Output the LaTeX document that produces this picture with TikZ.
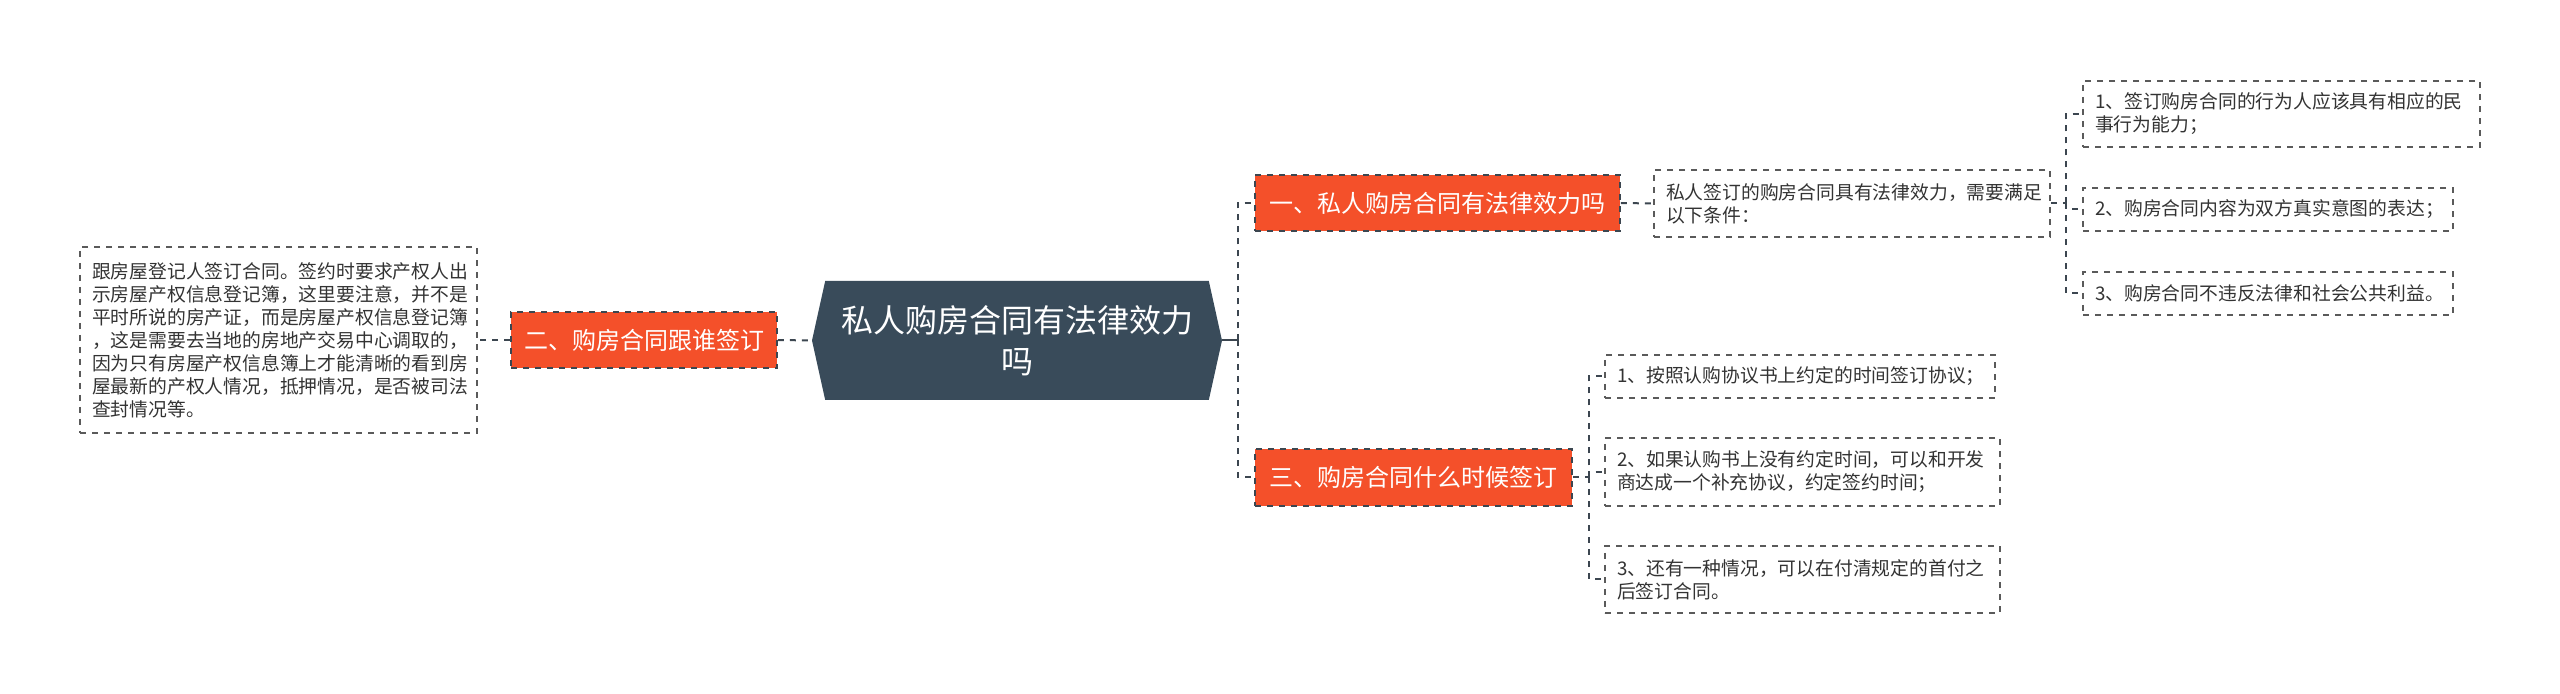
\documentclass[tikz,border=0pt]{standalone}
\usepackage{fontspec}
\newfontfamily\cjk{Noto Sans CJK SC}
\usetikzlibrary{shapes.symbols}

\definecolor{rootfill}{HTML}{394B5A}
\definecolor{topicfill}{HTML}{F4502A}
\definecolor{linegray}{HTML}{3C4650}
\definecolor{boxgray}{HTML}{5A5A5A}
\definecolor{textgray}{HTML}{333333}

\tikzset{
	rootnode/.style={signal, signal to=east and west, signal pointer angle=155, fill=rootfill, text=white, align=center,
		minimum width=205pt, minimum height=59.5pt, inner sep=2pt, font=\cjk\fontsize{16pt}{20.5pt}\selectfont},
	topic/.style={fill=topicfill, draw=linegray, dashed, line width=0.8pt, text=white, inner sep=0pt,
		font=\cjk\fontsize{12pt}{14pt}\selectfont},
	leaf/.style={draw=boxgray, dashed, line width=0.75pt, text=textgray, align=left, inner xsep=6pt, inner ysep=0pt,
		font=\cjk\fontsize{9.4pt}{11.5pt}\selectfont},
	link/.style={draw=linegray, line width=1pt, dashed},
}

\begin{document}
\begin{tikzpicture}[x=0.5pt, y=-0.5pt, dash pattern=on 4pt off 2.5pt]
				\useasboundingbox (0,0) rectangle (2560,694);
				\node[rootnode] (root) at (1017,340.5) {私人购房合同有法律效力\\吗};
				% left side
				\node[topic, minimum width=133pt, minimum height=28pt] (q2) at (644,340) {二、购房合同跟谁签订};
				\node[leaf, text width=186.5pt, minimum height=93pt] (sign) at (278.5,340) {跟房屋登记人签订合同。签约时要求产权人出\\示房屋产权信息登记簿，这里要注意，并不是\\平时所说的房产证，而是房屋产权信息登记簿\\，这是需要去当地的房地产交易中心调取的，\\因为只有房屋产权信息簿上才能清晰的看到房\\屋最新的产权人情况，抵押情况，是否被司法\\查封情况等。};
				% right side
				\node[topic, minimum width=182.5pt, minimum height=28pt] (q1) at (1437.5,203) {一、私人购房合同有法律效力吗};
				\node[topic, minimum width=158.5pt, minimum height=28.5pt] (q3) at (1413.5,477.5) {三、购房合同什么时候签订};
				\node[leaf, text width=186pt, minimum height=33.5pt] (cond) at (1852,203.5) {私人签订的购房合同具有法律效力，需要满足\\以下条件：};
				\node[leaf, text width=186.5pt, minimum height=33pt] (c1) at (2281.5,114) {1、签订购房合同的行为人应该具有相应的民\\事行为能力；};
				\node[leaf, text width=173pt, minimum height=21.5pt] (c2) at (2268,209.5) {2、购房合同内容为双方真实意图的表达；};
				\node[leaf, text width=173pt, minimum height=21.5pt] (c3) at (2268,293.5) {3、购房合同不违反法律和社会公共利益。};
				\node[leaf, text width=183pt, minimum height=21.5pt] (t1) at (1800,376.5) {1、按照认购协议书上约定的时间签订协议；};
				\node[leaf, text width=185.5pt, minimum height=34pt] (t2) at (1802.5,472) {2、如果认购书上没有约定时间，可以和开发\\商达成一个补充协议，约定签约时间；};
				\node[leaf, text width=185.5pt, minimum height=33.5pt] (t3) at (1802.5,579.5) {3、还有一种情况，可以在付清规定的首付之\\后签订合同。};
				\coordinate (busR) at (1238,340.5);
				\coordinate (busC) at (2066,203.5);
				\coordinate (busT) at (1589,477.5);
				\draw[link] (q2.east) -- (root.west);
				\draw[link] (q2.west) -- (sign.east);
				\draw[link, solid] (root.east) -- (busR);
				\draw[link] (busR) |- (q1.west);
				\draw[link] (busR) |- (q3.west);
				\draw[link] (q1.east) -- (cond.west);
				\draw[link] (cond.east) -- (busC);
				\draw[link] (busC) |- (c1.west);
				\draw[link] (busC) |- (c2.west);
				\draw[link] (busC) |- (c3.west);
				\draw[link] (q3.east) -- (busT);
				\draw[link] (busT) |- (t1.west);
				\draw[link] (busT) |- (t2.west);
				\draw[link] (busT) |- (t3.west);
\end{tikzpicture}
\end{document}
